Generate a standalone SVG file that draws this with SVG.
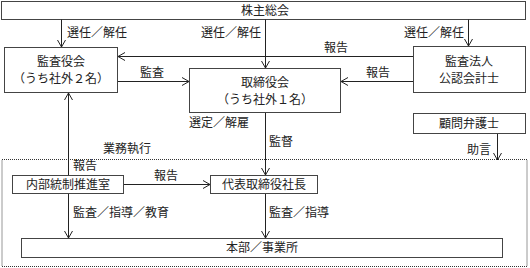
<svg xmlns="http://www.w3.org/2000/svg" width="530" height="268" viewBox="0 0 530 268">
<defs>
<style>
rect.n{fill:#fff;stroke:#444;stroke-width:1}
text{font-family:"Noto Sans CJK JP","Noto Sans CJK SC",sans-serif;font-size:12px;fill:#222}
.c{text-anchor:middle}
.e{text-anchor:end}
.l{stroke:#222;stroke-width:1;fill:none}
</style>
<marker id="ah" markerWidth="8" markerHeight="10" refX="7" refY="5" orient="auto" markerUnits="userSpaceOnUse">
<path d="M0,1 L7,5 L0,9" fill="none" stroke="#222" stroke-width="1"/>
</marker>
</defs>
<rect x="0" y="0" width="530" height="268" fill="#fff"/>
<rect x="2" y="159.5" width="525" height="107" fill="none" stroke="#333" stroke-width="1" stroke-dasharray="1,1"/>
<g id="n-shareholders"><rect class="n" x="1.5" y="1.5" width="524" height="18"/><text class="c" x="265" y="15">株主総会</text></g>
<g id="n-kansayaku"><rect class="n" x="4.5" y="47.5" width="113" height="45"/><text class="c" x="61" y="66">監査役会</text><text class="c" x="61" y="83">（うち社外２名）</text></g>
<g id="n-torishimariyaku"><rect class="n" x="189.5" y="68.5" width="151" height="44"/><text class="c" x="265" y="87">取締役会</text><text class="c" x="265" y="104">（うち社外１名）</text></g>
<g id="n-audit"><rect class="n" x="413.5" y="46.5" width="112" height="46"/><text class="c" x="469" y="66">監査法人</text><text class="c" x="469" y="83">公認会計士</text></g>
<g id="n-lawyer"><rect class="n" x="413.5" y="113.5" width="112" height="20"/><text class="c" x="469" y="128">顧問弁護士</text></g>
<g id="n-internal"><rect class="n" x="12.5" y="175.5" width="111" height="18"/><text class="c" x="68" y="189">内部統制推進室</text></g>
<g id="n-president"><rect class="n" x="210.5" y="175.5" width="107" height="18"/><text class="c" x="264" y="189">代表取締役社長</text></g>
<g id="n-honbu"><rect class="n" x="21.5" y="238.5" width="481" height="19"/><text class="c" x="262" y="252">本部／事業所</text></g>
<g id="connectors">
<line class="l" x1="61.5" y1="19.5" x2="61.5" y2="47" marker-end="url(#ah)"/>
<line class="l" x1="265.5" y1="19.5" x2="265.5" y2="68" marker-end="url(#ah)"/>
<line class="l" x1="468.5" y1="19.5" x2="468.5" y2="46" marker-end="url(#ah)"/>
<line class="l" x1="413" y1="56.5" x2="118" y2="56.5" marker-end="url(#ah)"/>
<line class="l" x1="118" y1="81.5" x2="189" y2="81.5" marker-end="url(#ah)"/>
<line class="l" x1="413" y1="81.5" x2="341" y2="81.5" marker-end="url(#ah)"/>
<line class="l" x1="265.5" y1="113" x2="265.5" y2="175" marker-end="url(#ah)"/>
<line class="l" x1="497.5" y1="134" x2="497.5" y2="160" marker-end="url(#ah)"/>
<line class="l" x1="68.5" y1="175" x2="68.5" y2="93" marker-end="url(#ah)"/>
<line class="l" x1="124" y1="184.5" x2="210" y2="184.5" marker-end="url(#ah)"/>
<line class="l" x1="68.5" y1="194" x2="68.5" y2="238" marker-end="url(#ah)"/>
<line class="l" x1="265.5" y1="194" x2="265.5" y2="238" marker-end="url(#ah)"/>
</g>
<g id="labels">
<text x="67" y="37">選任／解任</text>
<text class="e" x="261" y="37">選任／解任</text>
<text class="e" x="464" y="37">選任／解任</text>
<text class="c" x="336" y="52">報告</text>
<text class="c" x="152" y="77">監査</text>
<text class="c" x="378" y="77">報告</text>
<text x="189" y="127">選定／解雇</text>
<text x="269" y="146">監督</text>
<text class="c" x="127" y="153">業務執行</text>
<text class="e" x="491" y="154">助言</text>
<text x="73" y="170">報告</text>
<text class="c" x="166" y="180">報告</text>
<text x="73" y="217">監査／指導／教育</text>
<text x="269" y="217">監査／指導</text>
</g>
</svg>
